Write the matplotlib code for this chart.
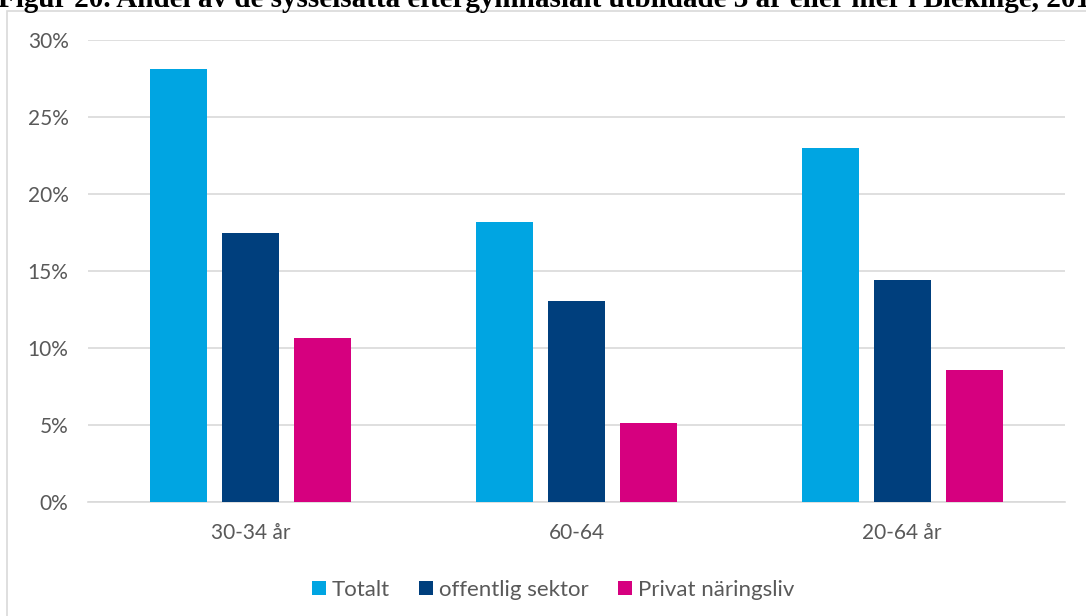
import matplotlib
matplotlib.use("Agg")
import matplotlib.pyplot as plt
from matplotlib.patches import Rectangle
import numpy as np

# data
categories = ["30-34 år", "60-64", "20-64 år"]
series_names = ["Totalt", "offentlig sektor", "Privat näringsliv"]
totalt = [28.1, 18.2, 23.0]
offentlig = [17.45, 13.05, 14.4]
privat = [10.65, 5.15, 8.57]
y_ticks = [0, 5, 10, 15, 20, 25, 30]
title = "Figur 20. Andel av de sysselsatta eftergymnasialt utbildade 3 år eller mer i Blekinge, 201"

colors = ["#00A5E2", "#003F7D", "#D6007F"]
grey = "#595959"

plt.rcParams["font.family"] = ["Lato", "DejaVu Sans"]

fig = plt.figure(figsize=(10.86, 6.16), dpi=100)
W, H = 1086, 616

# chart border (open to the right / bottom, like a clipped Excel chart)
fig.patches.append(Rectangle((7 / W, -0.1), 1.2, 1 - 10.5 / H + 0.1,
                             transform=fig.transFigure, fill=False,
                             edgecolor="#D9D9D9", linewidth=1.2))

# title is clipped at the top of the image
fig.text(-0.002, 1 - 7 / H, title, ha="left", va="baseline",
         family="Liberation Serif", weight="bold", fontsize=21)

ax = fig.add_axes([88 / W, 1 - 502 / H, (1065 - 88) / W, (502 - 40) / H])

x = np.arange(len(categories))
width = 0.175
step = 0.221
for i, (vals, name) in enumerate(zip([totalt, offentlig, privat], series_names)):
    ax.bar(x + (i - 1) * step, vals, width, color=colors[i], label=name, zorder=3)

ax.set_xlim(-0.5, 2.5)
ax.set_ylim(0, 30)
ax.set_yticks(y_ticks)
ax.set_yticklabels([f"{t}%" for t in y_ticks])
ax.set_xticks(x)
ax.set_xticklabels(categories)
ax.grid(axis="y", color="#D9D9D9", linewidth=1.2, zorder=0)
for s in ["top", "right", "left"]:
    ax.spines[s].set_visible(False)
ax.spines["bottom"].set_color("#D9D9D9")
ax.spines["bottom"].set_linewidth(1.2)
ax.tick_params(axis="both", length=0, colors=grey, labelsize=15)
ax.tick_params(axis="y", pad=14)
ax.tick_params(axis="x", pad=15)

ax.legend(loc="center", bbox_to_anchor=(0.476, -0.19), ncol=3, frameon=False,
          fontsize=16, labelcolor=grey, handlelength=0.64, handleheight=0.64,
          handletextpad=0.27, columnspacing=1.3)

fig.savefig("out.png", dpi=100)
